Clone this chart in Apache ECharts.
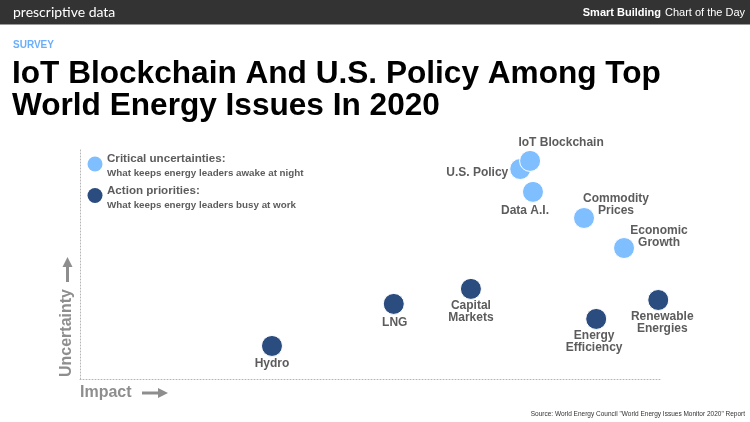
<!DOCTYPE html>
<html>
<head>
<meta charset="utf-8">
<script src="https://cdn.jsdelivr.net/npm/echarts@6/dist/echarts.min.js"></script>
<style>
html,body{margin:0;padding:0;background:#fff;}
#chart{width:750px;height:422px;}
</style>
</head>
<body>
<div id="chart"></div>
<script>
// Critical uncertainties (light blue)
const uncertaintyNames = ['U.S. Policy', 'IoT Blockchain', 'Data A.I.', 'Commodity\nPrices', 'Economic\nGrowth'];
const uncertaintyImpact = [75.9, 77.6, 78.1, 86.9, 93.8];
const uncertaintyLevel = [90.9, 94.4, 81.0, 69.7, 56.7];

// Action priorities (dark blue)
const priorityNames = ['Hydro', 'LNG', 'Capital\nMarkets', 'Energy\nEfficiency', 'Renewable\nEnergies'];
const priorityImpact = [33.1, 54.1, 67.4, 89.0, 99.7];
const priorityLevel = [14.3, 32.5, 39.0, 26.0, 34.2];

// label placement (offset from point center), kept apart from data
const labelOffsets = {
  'IoT Blockchain': [31, -18],
  'U.S. Policy': [-43, 4],
  'Data A.I.': [-8, 19],
  'Commodity\nPrices': [32, -13],
  'Economic\nGrowth': [35, -11],
  'Hydro': [0, 18],
  'LNG': [1, 19],
  'Capital\nMarkets': [0, 23],
  'Energy\nEfficiency': [-2, 23],
  'Renewable\nEnergies': [4, 23]
};

const LIGHT = '#80bfff';
const DARK = '#2b4c7e';
const LABEL_GRAY = '#5c5c5c';
const AXIS_GRAY = '#8e8e8e';

function buildData(names, xs, ys) {
  return names.map((n, i) => ({
    name: n,
    value: [xs[i], ys[i]],
    label: { offset: labelOffsets[n] || [0, 0] }
  }));
}

const chart = echarts.init(document.getElementById('chart'), null, { renderer: 'canvas' });

const labelStyle = {
  show: true,
  position: 'inside',
  formatter: p => p.name,
  color: LABEL_GRAY,
  fontFamily: 'Liberation Sans, Arial, sans-serif',
  fontWeight: 'bold',
  fontSize: 12,
  lineHeight: 12,
  align: 'center',
  verticalAlign: 'middle'
};

const dottedAxis = { show: true, lineStyle: { color: '#b5b5b5', type: [1, 2], width: 1 } };

const option = {
  backgroundColor: '#ffffff',
  animation: false,
  grid: { left: 80, right: 90, top: 148, bottom: 43 },
  xAxis: {
    type: 'value', min: 0, max: 100,
    axisLine: dottedAxis,
    axisTick: { show: false }, axisLabel: { show: false }, splitLine: { show: false }
  },
  yAxis: {
    type: 'value', min: 0, max: 100,
    axisLine: dottedAxis,
    axisTick: { show: false }, axisLabel: { show: false }, splitLine: { show: false }
  },
  series: [
    {
      name: 'Action priorities',
      type: 'scatter',
      clip: false,
      symbolSize: 21,
      itemStyle: { color: DARK, borderColor: '#ffffff', borderWidth: 1, opacity: 1 },
      label: labelStyle,
      data: buildData(priorityNames, priorityImpact, priorityLevel)
    },
    {
      name: 'Critical uncertainties',
      type: 'scatter',
      clip: false,
      symbolSize: 21,
      itemStyle: { color: LIGHT, borderColor: '#ffffff', borderWidth: 1, opacity: 1 },
      label: labelStyle,
      data: buildData(uncertaintyNames, uncertaintyImpact, uncertaintyLevel)
    }
  ],
  graphic: [
    // header bar
    { type: 'rect', shape: { x: 0, y: 0, width: 750, height: 24 }, style: { fill: '#333333' }, z: 0 },
    { type: 'rect', shape: { x: 0, y: 24, width: 750, height: 1 }, style: { fill: '#9a9a9a' }, z: 0 },
    { type: 'text', x: 13, y: 12.5, style: { text: 'prescriptive data', fill: '#ffffff', font: '14px Lato, "Open Sans", sans-serif', textAlign: 'left', textVerticalAlign: 'middle' } },
    { type: 'text', x: 661, y: 13, style: { text: 'Smart Building', fill: '#ffffff', font: 'bold 11px "Liberation Sans", Arial, sans-serif', textAlign: 'right', textVerticalAlign: 'middle' } },
    { type: 'text', x: 665, y: 13, style: { text: 'Chart of the Day', fill: '#ffffff', font: '11px "Liberation Sans", Arial, sans-serif', textAlign: 'left', textVerticalAlign: 'middle' } },
    // kicker and title
    { type: 'text', x: 13, y: 45.5, style: { text: 'SURVEY', fill: '#6aaefc', font: 'bold 10px "Liberation Sans", Arial, sans-serif', textAlign: 'left', textVerticalAlign: 'middle' } },
    { type: 'text', x: 12, y: 74, style: { text: 'IoT Blockchain And U.S. Policy Among Top', fill: '#000000', font: 'bold 31.6px "Liberation Sans", Arial, sans-serif', textAlign: 'left', textVerticalAlign: 'middle' } },
    { type: 'text', x: 12, y: 106, style: { text: 'World Energy Issues In 2020', fill: '#000000', font: 'bold 31.6px "Liberation Sans", Arial, sans-serif', textAlign: 'left', textVerticalAlign: 'middle' } },
    // legend
    { type: 'circle', shape: { cx: 95, cy: 164, r: 7.5 }, style: { fill: LIGHT } },
    { type: 'text', x: 107, y: 159, style: { text: 'Critical uncertainties:', fill: LABEL_GRAY, font: 'bold 11.6px "Liberation Sans", Arial, sans-serif', textAlign: 'left', textVerticalAlign: 'middle' } },
    { type: 'text', x: 107, y: 173, style: { text: 'What keeps energy leaders awake at night', fill: LABEL_GRAY, font: 'bold 9.8px "Liberation Sans", Arial, sans-serif', textAlign: 'left', textVerticalAlign: 'middle' } },
    { type: 'circle', shape: { cx: 95, cy: 195.5, r: 7.5 }, style: { fill: DARK } },
    { type: 'text', x: 107, y: 191, style: { text: 'Action priorities:', fill: LABEL_GRAY, font: 'bold 11.6px "Liberation Sans", Arial, sans-serif', textAlign: 'left', textVerticalAlign: 'middle' } },
    { type: 'text', x: 107, y: 205, style: { text: 'What keeps energy leaders busy at work', fill: LABEL_GRAY, font: 'bold 9.8px "Liberation Sans", Arial, sans-serif', textAlign: 'left', textVerticalAlign: 'middle' } },
    // axis titles
    { type: 'text', x: 67, y: 333, rotation: Math.PI / 2, style: { text: 'Uncertainty', fill: AXIS_GRAY, font: 'bold 16px "Liberation Sans", Arial, sans-serif', textAlign: 'center', textVerticalAlign: 'middle' } },
    { type: 'rect', shape: { x: 66, y: 265, width: 3, height: 17 }, style: { fill: AXIS_GRAY } },
    { type: 'polygon', shape: { points: [[67.5, 257], [62.5, 267], [72.5, 267]] }, style: { fill: AXIS_GRAY } },
    { type: 'text', x: 80, y: 393, style: { text: 'Impact', fill: AXIS_GRAY, font: 'bold 16px "Liberation Sans", Arial, sans-serif', textAlign: 'left', textVerticalAlign: 'middle' } },
    { type: 'rect', shape: { x: 142, y: 391.5, width: 17, height: 3 }, style: { fill: AXIS_GRAY } },
    { type: 'polygon', shape: { points: [[168, 393], [158, 388], [158, 398]] }, style: { fill: AXIS_GRAY } },
    // source
    { type: 'text', x: 745, y: 414, style: { text: 'Source: World Energy Council "World Energy Issues Monitor 2020" Report', fill: '#333333', font: '6.5px "Liberation Sans", Arial, sans-serif', textAlign: 'right', textVerticalAlign: 'middle' } }
  ]
};

chart.setOption(option);
</script>
</body>
</html>
